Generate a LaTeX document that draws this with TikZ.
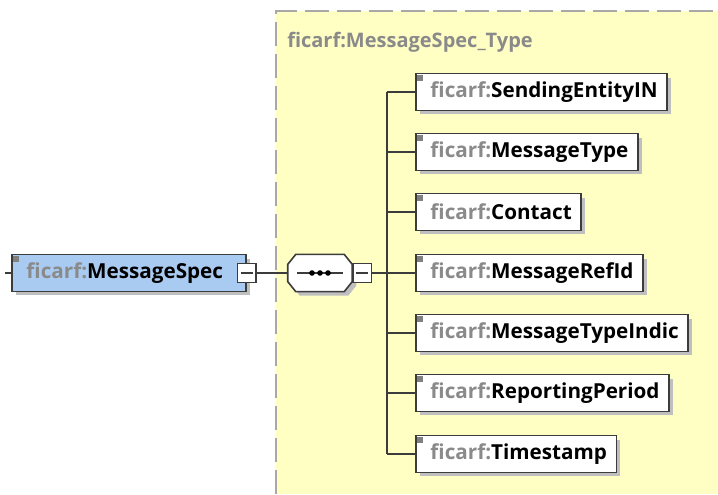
\documentclass[tikz,border=0pt]{standalone}
\usepackage{fontspec}
\setmainfont{Open Sans}
\usetikzlibrary{shadows}
\definecolor{typeyellow}{HTML}{FFFFC4}
\definecolor{elemblue}{HTML}{A9CBF1}
\definecolor{pfxgray}{HTML}{8A8A8A}
\definecolor{edgegray}{HTML}{3C3C3C}
\definecolor{dashgray}{HTML}{A8A8A8}
\newcommand{\ficarf}[1]{\hspace*{7pt}{\color{pfxgray}ficarf:}#1}
\tikzset{
	elem/.style={draw=edgegray,line width=1.2pt,fill=white,anchor=west,minimum height=27.5pt,inner xsep=4pt,inner ysep=0pt,
		font=\fontsize{15.5}{18}\selectfont\bfseries,
		drop shadow={shadow xshift=3pt,shadow yshift=-3pt,fill=black!25,opacity=1},
		path picture={\fill[gray] ([shift={(1.2pt,-1.2pt)}]path picture bounding box.north west) rectangle ++(4.5pt,-4.5pt);}},
	minusbox/.style={draw=edgegray,line width=1pt,fill=white,minimum width=14pt,minimum height=14pt,inner sep=0pt,
		path picture={\draw[edgegray,line width=1pt] ([xshift=-4.5pt]path picture bounding box.center) -- ([xshift=4.5pt]path picture bounding box.center);}},
	seqbox/.style={minimum width=48pt,minimum height=27.5pt,inner sep=0pt},
	link/.style={draw=edgegray,line width=1.2pt},
}
\begin{document}
\begin{tikzpicture}[x=0.75pt,y=-0.75pt]
	\useasboundingbox (0,0) rectangle (718,494);
	% complex type area
	\fill[typeyellow] (276,11) rectangle (718,494);
	\draw[dashgray,line width=2.2pt,dash pattern=on 18pt off 6pt] (276,494) -- (276,11) -- (718,11);
	\node[anchor=base west,text=pfxgray,font=\fontsize{15}{18}\selectfont\bfseries,inner sep=0pt] (typename)at(287,47) {ficarf:MessageSpec\_Type};
	
	% element and sequence
	\node[elem,fill=elemblue] (spec)at(11,273) {\ficarf{MessageSpec}\hspace*{13pt}};
	\node[minusbox] (specminus)at(spec.east) {};
	\coordinate (stub)at(5,273);
	\draw[link] (stub) -- (spec);
	
	\node[seqbox] (seq)at(320,273) {};
	\draw[edgegray,line width=1.2pt,fill=white,drop shadow={shadow xshift=3pt,shadow yshift=-3pt,fill=black!25,opacity=1}]
		([xshift=6pt]seq.north west) -- ([xshift=-6pt]seq.north east) -- ([yshift=-7.5pt]seq.north east)
		-- ([yshift=7.5pt]seq.south east) -- ([xshift=-6pt]seq.south east) -- ([xshift=6pt]seq.south west)
		-- ([yshift=7.5pt]seq.south west) -- ([yshift=-7.5pt]seq.north west) -- cycle;
	\draw[edgegray,line width=1.2pt] ([xshift=-17pt]seq.center) -- ([xshift=17pt]seq.center);
	\foreach \dx in {-6,0,6}
		\fill[black] ([xshift=\dx pt]seq.center) circle (2.1pt);
	\node[minusbox,anchor=west] (seqminus)at(seq.east) {};
	\draw[link] (specminus) -- (seq);
	
	% children
	\coordinate (bar)at(387,273);
	\draw[link] (seqminus) -- (bar);
	\foreach \name/\lbl/\y in {send/SendingEntityIN/92,mtype/MessageType/152,contact/Contact/212,refid/MessageRefId/273,
		indic/MessageTypeIndic/333,period/ReportingPeriod/393,stamp/Timestamp/454}
	{
		\node[elem] (\name)at(415,\y) {\ficarf{\lbl}\hspace*{3pt}};
		\draw[link] (bar |- \name.west) -- (\name);
	}
	\draw[link] (bar |- send.west) -- (bar |- stamp.west);
\end{tikzpicture}
\end{document}
